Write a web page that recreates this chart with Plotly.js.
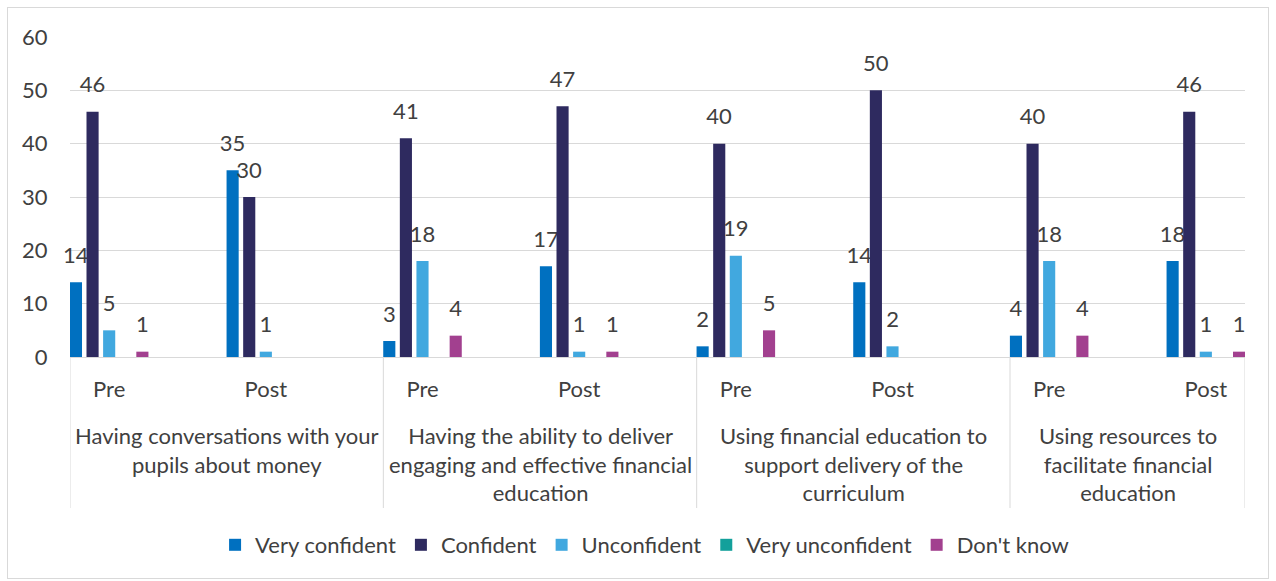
<!DOCTYPE html>
<html>
<head>
<meta charset="utf-8">
<script src="https://cdn.plot.ly/plotly-3.0.1.min.js"></script>
<style>
html,body{margin:0;padding:0;background:#fff;}
#chart{position:absolute;left:0;top:0;width:1276px;height:581px;}
#frame{position:absolute;left:7px;top:7px;width:1262px;height:572px;border:1px solid #d9d9d9;box-sizing:border-box;pointer-events:none;}
</style>
</head>
<body>
<div id="chart"></div>
<div id="frame"></div>
<script>
// ---- data ----
const groups = [
  "Having conversations with your<br>pupils about money",
  "Having the ability to deliver<br>engaging and effective financial<br>education",
  "Using financial education to<br>support delivery of the<br>curriculum",
  "Using resources to<br>facilitate financial<br>education"
];
const phases = ["Pre", "Post"];
const seriesNames = ["Very confident", "Confident", "Unconfident", "Very unconfident", "Don't know"];
const veryConfident   = [14, 35, 3, 17, 2, 14, 4, 18];
const confident       = [46, 30, 41, 47, 40, 50, 40, 46];
const unconfident     = [5, 1, 18, 1, 19, 2, 18, 1];
const veryUnconfident = [0, 0, 0, 0, 0, 0, 0, 0];
const dontKnow        = [1, 0, 4, 1, 5, 0, 4, 1];
const colors = ["#0070C0", "#2E2A5F", "#41A8DF", "#13A09B", "#A2408F"];

const seriesValues = [veryConfident, confident, unconfident, veryUnconfident, dontKnow];
const tickText = [];
groups.forEach(() => phases.forEach(p => tickText.push(p)));
const xIdx = tickText.map((_, i) => i);

const FONT = "Lato, 'Open Sans', sans-serif";
const TXT = "#404040";
const FS = 22;

const traces = seriesValues.map((vals, s) => ({
  type: "bar",
  name: seriesNames[s],
  x: xIdx,
  y: vals,
  marker: {color: colors[s]},
  text: vals.map(v => v > 0 ? '<span style="font-size:' + FS + 'px">' + v + '</span><br><span style="color:rgba(0,0,0,0)">.</span>' : ''),
  textposition: "outside",
  textfont: {family: FONT, size: 11, color: TXT},
  constraintext: "none",
  cliponaxis: false,
  hoverinfo: "name+y"
}));

// group boundaries in category units
const nCat = tickText.length;
const bounds = [-0.25];
for (let g = 1; g < groups.length; g++) bounds.push(g * phases.length - 0.25);
bounds.push(nCat - 0.75);

const plotTop = 37, plotBottom = 357;
const ph = plotBottom - plotTop;
const py = pix => (plotBottom - pix) / ph;

const shapes = bounds.map(b => ({
  type: "line", xref: "x", yref: "paper",
  x0: b, x1: b, y0: 0, y1: py(508),
  line: {color: "#d9d9d9", width: 1}
}));

const annotations = groups.map((g, i) => ({
  xref: "x", yref: "paper",
  x: (bounds[i] + bounds[i + 1]) / 2,
  y: py(420),
  yanchor: "top", xanchor: "center",
  text: g, showarrow: false,
  font: {family: FONT, size: FS, color: TXT},
  align: "center"
}));

const layout = {
  width: 1276, height: 581,
  margin: {l: 70, r: 31, t: plotTop, b: 581 - plotBottom},
  paper_bgcolor: "rgba(0,0,0,0)",
  plot_bgcolor: "rgba(0,0,0,0)",
  barmode: "group",
  bargap: 0.47,
  bargroupgap: 0.27,
  font: {family: FONT, size: FS, color: TXT},
  xaxis: {
    range: [bounds[0], bounds[bounds.length - 1]],
    tickvals: xIdx, ticktext: tickText,
    showgrid: false, zeroline: false,
    showline: true, linecolor: "#d9d9d9", linewidth: 1,
    ticks: "outside", ticklen: 13, tickcolor: "rgba(0,0,0,0)",
    tickfont: {family: FONT, size: FS, color: TXT},
    fixedrange: true
  },
  yaxis: {
    range: [0, 60], dtick: 10, tick0: 0,
    showgrid: true, gridcolor: "#d9d9d9", gridwidth: 1,
    zeroline: false, showline: false,
    ticks: "outside", ticklen: 17, tickcolor: "rgba(0,0,0,0)",
    tickfont: {family: FONT, size: FS, color: TXT},
    fixedrange: true
  },
  showlegend: true,
  legend: {
    orientation: "h",
    x: 0.489, xanchor: "center",
    y: py(545), yanchor: "middle",
    font: {family: FONT, size: FS, color: TXT},
    traceorder: "normal",
    itemclick: false, itemdoubleclick: false
  },
  shapes: shapes,
  annotations: annotations
};

Plotly.newPlot("chart", traces, layout, {displayModeBar: false, staticPlot: true});
</script>
</body>
</html>
